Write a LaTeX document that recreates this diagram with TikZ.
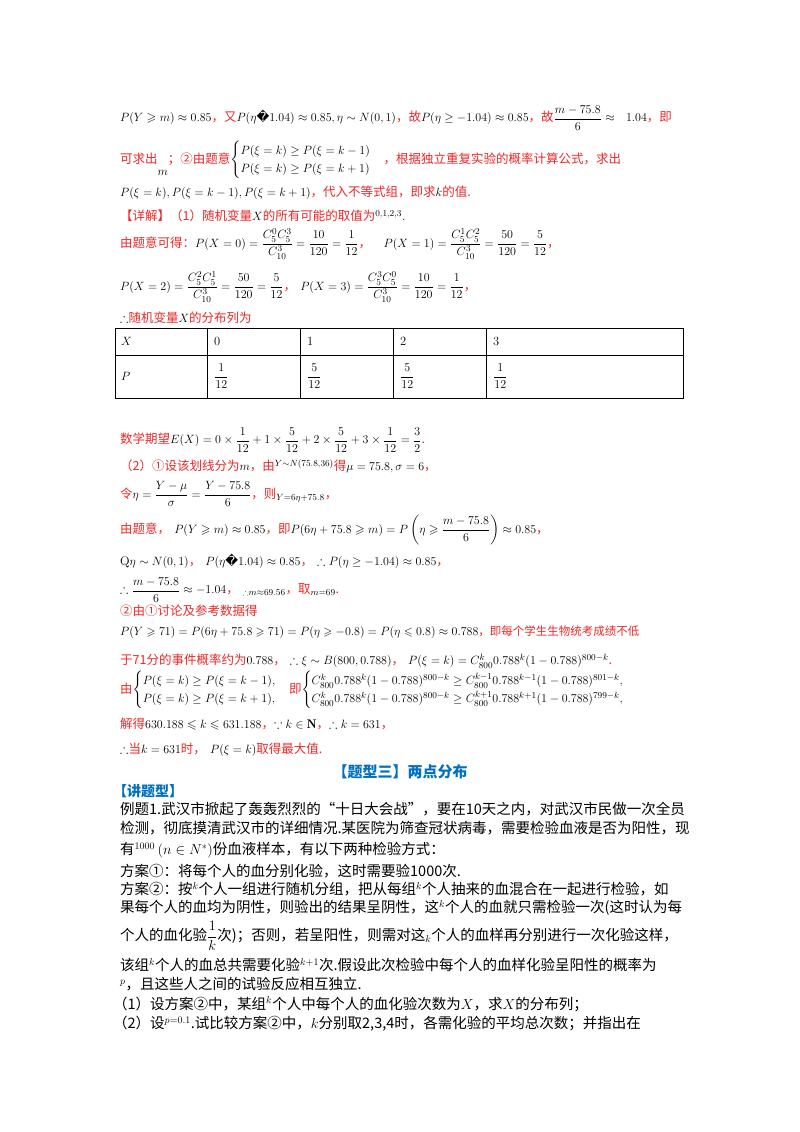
\documentclass[tikz,border=0pt]{standalone}
\usepackage{amsmath,amssymb}
\usepackage{fontspec}
\newfontfamily\cjk{Noto Sans CJK SC}
\newfontfamily\dv{DejaVu Sans}
\definecolor{rd}{RGB}{235,40,40}
\definecolor{bl}{RGB}{0,112,192}
\newcommand{\R}[1]{{\color{rd}\cjk #1}}
\newcommand{\rep}{{\dv\char"FFFD}}
\begin{document}
\begin{tikzpicture}[x=1pt,y=-1pt,
  ln/.style={anchor=west,inner sep=0pt,font=\fontsize{12.5}{15}\selectfont},
  bk/.style={anchor=west,inner sep=0pt,font=\fontsize{14.5}{16}\selectfont\cjk},
  cell/.style={anchor=west,inner sep=0pt,font=\fontsize{12.5}{15}\selectfont}]
\useasboundingbox (0,0) rectangle (800,1132);
\fill[white] (0,0) rectangle (800,1132);
\node[ln] (l1) at (120,118) {$P(Y\geqslant m)\approx0.85$\R{，又}$P(\eta\text{\rep}1.04)\approx0.85,\eta\sim N(0,1)$\R{，故}$P(\eta\ge-1.04)\approx0.85$\R{，故}$\dfrac{m-75.8}{6}\approx\ \ 1.04$\R{，即}};
\node[ln] (l2) at (120,160) {\R{可求出}\raisebox{-12pt}{$m$}\R{；②由题意}$\begin{cases}P(\xi=k)\ge P(\xi=k-1)\\P(\xi=k)\ge P(\xi=k+1)\end{cases}$\R{，根据独立重复实验的概率计算公式，求出}};
\node[ln] (l3) at (120,193) {$P(\xi=k),P(\xi=k-1),P(\xi=k+1)$\R{，代入不等式组，即求}$k$\R{的值.}};
\node[ln] (l4) at (120,216) {\R{【详解】（1）随机变量}$X$\R{的所有可能的取值为}$^{0,1,2,3}$.};
\node[ln] (l5) at (120,244) {\R{由题意可得：}$P(X=0)=\dfrac{C_5^0C_5^3}{C_{10}^3}=\dfrac{10}{120}=\dfrac1{12}$\R{，}\quad$P(X=1)=\dfrac{C_5^1C_5^2}{C_{10}^3}=\dfrac{50}{120}=\dfrac5{12}$\R{，}};
\node[ln] (l6) at (120,287) {$P(X=2)=\dfrac{C_5^2C_5^1}{C_{10}^3}=\dfrac{50}{120}=\dfrac5{12}$\R{，}\ $P(X=3)=\dfrac{C_5^3C_5^0}{C_{10}^3}=\dfrac{10}{120}=\dfrac1{12}$\R{，}};
\node[ln] (l7) at (120,318) {$\therefore$\R{随机变量}$X$\R{的分布列为}};
% table
\draw[line width=0.8pt] (115,328) rectangle (683,398);
\draw[line width=0.8pt] (115,355) -- (683,355);
\foreach \x in {207,300,393,486} \draw[line width=0.8pt] (\x,328) -- (\x,398);
\node[cell] (tx) at (121,341) {$X$};
\node[cell] (t0) at (214,341) {0};
\node[cell] (t1) at (307,341) {1};
\node[cell] (t2) at (400,341) {2};
\node[cell] (t3) at (493,341) {3};
\node[cell] (tp) at (121,376) {$P$};
\node[cell] (p0) at (214,376) {$\dfrac{1}{12}$};
\node[cell] (p1) at (307,376) {$\dfrac{5}{12}$};
\node[cell] (p2) at (400,376) {$\dfrac{5}{12}$};
\node[cell] (p3) at (493,376) {$\dfrac{1}{12}$};
\node[ln] (l8) at (120,440) {\R{数学期望}$E(X)=0\times\dfrac1{12}+1\times\dfrac5{12}+2\times\dfrac5{12}+3\times\dfrac1{12}=\dfrac32$\R{.}};
\node[ln] (l9) at (120,466) {\R{（2）①设该划线分为}$m$\R{，由}$^{Y\sim N(75.8,36)}$\R{得}$\mu=75.8,\sigma=6$\R{，}};
\node[ln] (l10) at (120,494) {\R{令}$\eta=\dfrac{Y-\mu}{\sigma}=\dfrac{Y-75.8}{6}$\R{，则}$_{Y=6\eta+75.8}$\R{，}};
\node[ln] (l11) at (120,530) {\R{由题意，}\ $P(Y\geqslant m)\approx0.85$\R{，即}$P(6\eta+75.8\geqslant m)=P\left(\eta\geqslant\dfrac{m-75.8}{6}\right)\approx0.85$\R{，}};
\node[ln] (l12) at (120,561) {Q$\eta\sim N(0,1)$\R{，}\ $P(\eta\text{\rep}1.04)\approx0.85$\R{，}\ $\therefore P(\eta\ge-1.04)\approx0.85$\R{，}};
\node[ln] (l13) at (120,590) {$\therefore\dfrac{m-75.8}{6}\approx-1.04$\R{，}\ $_{\therefore m\approx69.56}$\R{，取}$_{m=69}$\R{.}};
\node[ln] (l14) at (120,611) {\R{②由①讨论及参考数据得}};
\node[ln] (l15) at (120,632) {\fontsize{11.5}{13}\selectfont$P(Y\geqslant71)=P(6\eta+75.8\geqslant71)=P(\eta\geqslant-0.8)=P(\eta\leqslant0.8)\approx0.788$\R{，即每个学生生物统考成绩不低}};
\node[ln] (l16) at (120,661) {\R{于71分的事件概率约为}$0.788$\R{，}\ $\therefore\xi\sim B(800,0.788)$\R{，}\ $P(\xi=k)=C_{800}^k0.788^k(1-0.788)^{800-k}$\R{.}};
\node[ln] (l17) at (120,690) {\R{由}$\begin{cases}P(\xi=k)\ge P(\xi=k-1),\\P(\xi=k)\ge P(\xi=k+1),\end{cases}$\R{即}$\begin{cases}C_{800}^k0.788^k(1-0.788)^{800-k}\ge C_{800}^{k-1}0.788^{k-1}(1-0.788)^{801-k},\\C_{800}^k0.788^k(1-0.788)^{800-k}\ge C_{800}^{k+1}0.788^{k+1}(1-0.788)^{799-k},\end{cases}$};
\node[ln] (l18) at (120,724) {\R{解得}$630.188\leqslant k\leqslant631.188$\R{，}$\because k\in\mathbf N$\R{，}$\therefore k=631$\R{，}};
\node[ln] (l19) at (120,750) {$\therefore$\R{当}$k=631$\R{时，}\ $P(\xi=k)$\R{取得最大值.}};
\node[anchor=center,inner sep=0pt,font=\fontsize{15}{18}\selectfont\cjk\bfseries,text=bl] (title) at (400,772) {【题型三】两点分布};
\node[ln,font=\fontsize{14}{16}\selectfont\cjk\bfseries,text=bl] (jt) at (113,791) {【讲题型】};
\node[bk] (b1) at (120,809) {例题1.武汉市掀起了轰轰烈烈的“十日大会战”，要在10天之内，对武汉市民做一次全员};
\node[bk] (b2) at (120,828) {检测，彻底摸清武汉市的详细情况.某医院为筛查冠状病毒，需要检验血液是否为阳性，现};
\node[bk] (b3) at (120,850) {有$^{1000}\left(n\in N^*\right)$份血液样本，有以下两种检验方式：};
\node[bk] (b4) at (120,871) {方案①：将每个人的血分别化验，这时需要验1000次.};
\node[bk] (b5) at (120,889) {方案②：按$^k$个人一组进行随机分组，把从每组$^k$个人抽来的血混合在一起进行检验，如};
\node[bk] (b6) at (120,908) {果每个人的血均为阴性，则验出的结果呈阴性，这$^k$个人的血就只需检验一次(这时认为每};
\node[bk] (b7) at (120,936) {个人的血化验$\dfrac1k$次)；否则，若呈阳性，则需对这$_k$个人的血样再分别进行一次化验这样，};
\node[bk] (b8) at (120,965) {该组$^k$个人的血总共需要化验$^{k+1}$次.假设此次检验中每个人的血样化验呈阳性的概率为};
\node[bk] (b9) at (120,984) {$^p$，且这些人之间的试验反应相互独立.};
\node[bk] (b10) at (113,1004) {（1）设方案②中，某组$^k$个人中每个人的血化验次数为$X$，求$X$的分布列；};
\node[bk] (b11) at (113,1024) {（2）设$^{p=0.1}$.试比较方案②中，$k$分别取2,3,4时，各需化验的平均总次数；并指出在};
\end{tikzpicture}
\end{document}
